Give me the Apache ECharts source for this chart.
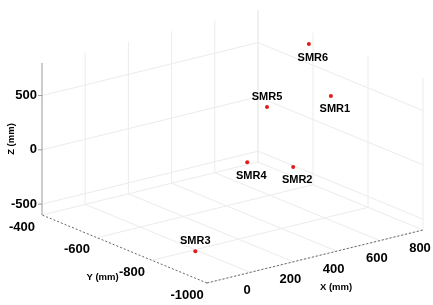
<!DOCTYPE html>
<html>
<head>
<meta charset="utf-8">
<script src="https://cdn.jsdelivr.net/npm/echarts@6/dist/echarts.min.js"></script>
<style>html,body{margin:0;padding:0;background:#fff}#c{width:433px;height:305px}</style>
</head>
<body>
<div id="c"></div>
<script>
// ---- data ----
const names = ['SMR1', 'SMR2', 'SMR3', 'SMR4', 'SMR5', 'SMR6'];
const xVals = [800, 600, -25, 400, 400, 800];
const yVals = [-665, -685, -820, -675, -747, -585];
const zVals = [285, -250, -580, -120, 463, 680];
const labelAbove = [false, false, true, false, true, false];

const xTicks = [0, 200, 400, 600, 800];
const yTicks = [-400, -600, -800, -1000];
const zTicks = [-500, 0, 500];
const xRange = [-200, 800];
const yRange = [-1000, -400];
const zRange = [-600, 800];
const xTitle = 'X (mm)', yTitle = 'Y (mm)', zTitle = 'Z (mm)';

// ---- 3D -> 2D projection (view layout) ----
const O = [207, 283], EX = [216, -53], EY = [-165, -68], EZ = [0, -152];
function proj(x, y, z) {
  const u = (x - xRange[0]) / (xRange[1] - xRange[0]);
  const v = (y - yRange[0]) / (yRange[1] - yRange[0]);
  const w = (z - zRange[0]) / (zRange[1] - zRange[0]);
  return [O[0] + u * EX[0] + v * EY[0] + w * EZ[0], O[1] + u * EX[1] + v * EY[1] + w * EZ[1]];
}
const [x0, x1] = xRange, [y0, y1] = yRange, [z0, z1] = zRange;

// grid segments
const gridSegs = [];
function seg(a, b) { const p = proj(...a), q = proj(...b); gridSegs.push([p[0], p[1], q[0], q[1]]); }
xTicks.forEach(x => { seg([x, y1, z0], [x, y1, z1]); seg([x, y0, z0], [x, y1, z0]); });
yTicks.forEach(y => { seg([x1, y, z0], [x1, y, z1]); seg([x0, y, z0], [x1, y, z0]); });
zTicks.forEach(z => { seg([x0, y1, z], [x1, y1, z]); seg([x1, y0, z], [x1, y1, z]); });

// axis segments: [x1,y1,x2,y2,dashed]
const axisSegs = [];
function aseg(a, b, dashed) { const p = proj(...a), q = proj(...b); axisSegs.push([p[0], p[1], q[0], q[1], dashed ? 1 : 0]); }
aseg([x0, y1, z0], [x0, y1, z1], false);
aseg([x0, y0, z0], [x0, y1, z0], true);
aseg([x0, y0, z0], [x1, y0, z0], true);

// texts: [px, py, text, align, fontSize, rotate]
const texts = [];
zTicks.forEach(z => { const p = proj(x0, y1, z); texts.push([p[0] - 5, p[1], String(z), 'right', 13, 0]); });
yTicks.forEach(y => { const p = proj(x0, y, z0); texts.push([p[0] - 20, p[1] + 12, String(y), 'center', 13, 0]); });
xTicks.forEach(x => { const p = proj(x, y0, z0); texts.push([p[0] - 3, p[1] + 18, String(x), 'center', 13, 0]); });
(() => {
  const px = proj((x0 + x1) / 2, y0, z0); texts.push([px[0] + 21, px[1] + 31, xTitle, 'center', 9.5, 0]);
  const py = proj(x0, (y0 + y1) / 2, z0); texts.push([py[0] - 22, py[1] + 28, yTitle, 'center', 9.5, 0]);
  const pz = proj(x0, y1, (z0 + z1) / 2); texts.push([pz[0] - 31, pz[1], zTitle, 'center', 9.5, 1]);
})();
// z tick marks
const tickSegs = zTicks.map(z => { const p = proj(x0, y1, z); return [p[0] - 4, p[1], p[0], p[1]]; });

const points = names.map((n, i) => {
  const p = proj(xVals[i], yVals[i], zVals[i]);
  return {
    value: p, name: n,
    label: labelAbove[i] ? { position: 'top', distance: 3, offset: [0, 0] } : { position: 'bottom', distance: 6, offset: [4, 0] }
  };
});

const FONT = '"Liberation Sans", Arial, sans-serif';
const chart = echarts.init(document.getElementById('c'), null, { renderer: 'canvas' });
chart.setOption({
  animation: false,
  backgroundColor: '#fff',
  grid: { left: 0, right: 0, top: 0, bottom: 0 },
  xAxis: { type: 'value', min: 0, max: 433, show: false },
  yAxis: { type: 'value', min: 0, max: 305, inverse: true, show: false },
  series: [
    {
      type: 'custom', data: gridSegs, silent: true, z: 1,
      renderItem: (params, api) => {
        const a = api.coord([api.value(0), api.value(1)]), b = api.coord([api.value(2), api.value(3)]);
        return { type: 'line', shape: { x1: a[0], y1: a[1], x2: b[0], y2: b[1] }, style: { stroke: '#ececec', lineWidth: 1 } };
      }
    },
    {
      type: 'custom', data: axisSegs.concat(tickSegs.map(t => t.concat([0]))), silent: true, z: 2,
      renderItem: (params, api) => {
        const a = api.coord([api.value(0), api.value(1)]), b = api.coord([api.value(2), api.value(3)]);
        const dashed = api.value(4) === 1;
        return { type: 'line', shape: { x1: a[0], y1: a[1], x2: b[0], y2: b[1] },
          style: { stroke: dashed ? '#666' : '#999', lineWidth: 1, lineDash: dashed ? [2, 2] : null } };
      }
    },
    {
      type: 'custom', data: texts, silent: true, z: 3,
      renderItem: (params, api) => {
        const t = texts[params.dataIndex];
        const a = api.coord([t[0], t[1]]);
        return { type: 'text', x: a[0], y: a[1], rotation: t[5] ? Math.PI / 2 : 0,
          style: { text: t[2], fill: '#000', font: 'bold ' + t[4] + 'px ' + FONT, align: t[3], verticalAlign: 'middle' } };
      }
    },
    {
      type: 'scatter', data: points, symbolSize: 4, z: 4,
      itemStyle: { color: '#e41a1a', opacity: 1 },
      label: { show: true, formatter: p => p.name, color: '#000', opacity: 1, textBorderWidth: 0, fontWeight: 'bold', fontSize: 11, fontFamily: FONT }
    }
  ]
});
</script>
</body>
</html>
